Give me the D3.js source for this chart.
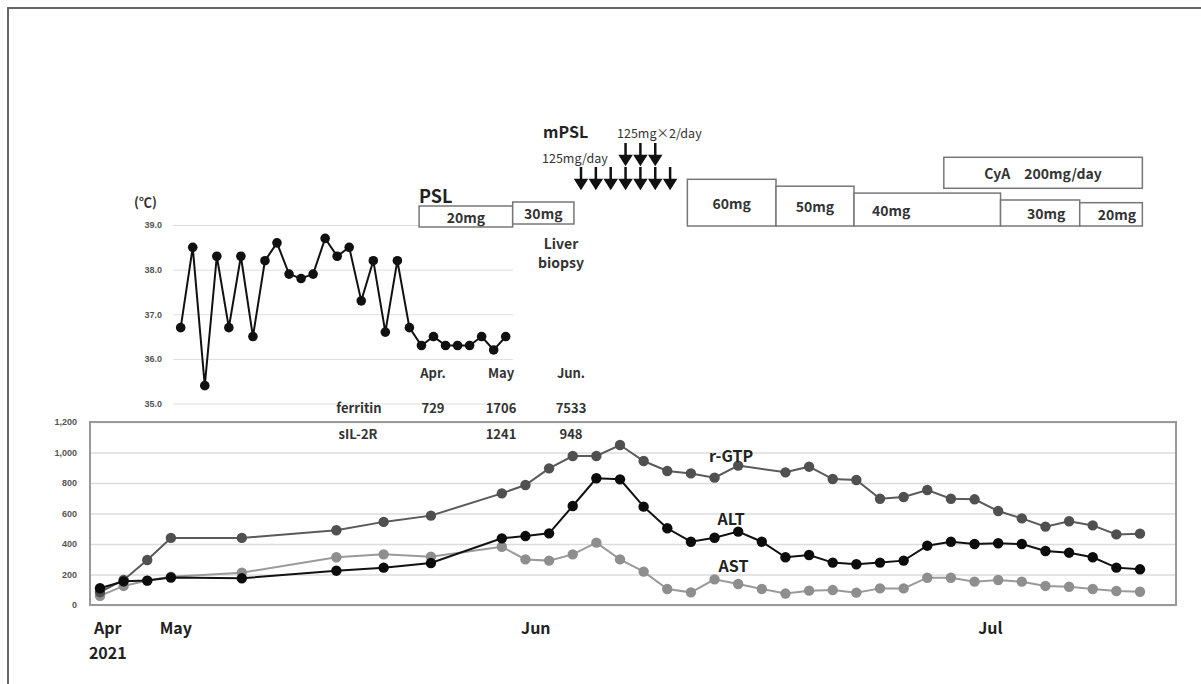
<!DOCTYPE html>
<html>
<head>
<meta charset="utf-8">
<script src="https://cdn.jsdelivr.net/npm/d3@7"></script>
<style>
  body { margin: 0; background: #fff; }
  svg { display: block; font-family: "Noto Sans CJK JP", "Noto Sans", sans-serif; }
</style>
</head>
<body>
<div id="my_dataviz"></div>
<script>
// ---- data ----
// body temperature, one reading per slot
const tempValues = [36.7, 38.5, 35.4, 38.3, 36.7, 38.3, 36.5, 38.2, 38.6, 37.9, 37.8, 37.9, 38.7, 38.3,
  38.5, 37.3, 38.2, 36.6, 38.2, 36.7, 36.3, 36.5, 36.3, 36.3, 36.3, 36.5, 36.2, 36.5];
const tempTicks = [35, 36, 37, 38, 39];

// lab values, category slots on the lower axis
const labSlots = [0, 1, 2, 3, 6, 10, 12, 14, 17, 18, 19, 20, 21, 22, 23, 24, 25, 26, 27, 28,
  29, 30, 31, 32, 33, 34, 35, 36, 37, 38, 39, 40, 41, 42, 43, 44];
const gtpValues = [85, 164, 295, 440, 440, 490, 545, 586, 732, 787, 896, 977, 977, 1049, 944, 879,
  863, 835, 914, null, 870, 907, 826, 820, 697, 708, 754, 697, 693, 616, 568, 514, 549, 522, 463, 468];
const altValues = [110, 155, 160, 180, 175, 225, 245, 275, 437, 452, 470, 649, 831, 824, 645, 503,
  415, 441, 481, 415, 313, 328, 278, 267, 278, 291, 389, 415, 400, 405, 400, 354, 343, 313, 245, 234];
const astValues = [60, 125, 160, 185, 212, 313, 332, 317, 382, 299, 291, 332, 409, 299, 219, 105,
  83, 168, 138, 105, 75, 94, 98, 81, 109, 109, 179, 179, 153, 164, 153, 125, 120, 105, 92, 87];
const labTicks = [0, 200, 400, 600, 800, 1000, 1200];

const monthLabels = ["Apr", "May", "Jun", "Jul"];
const monthSlots = [0.33, 3.21, 18.44, 37.67];

// table of ferritin / sIL-2R
const tableMonths = ["Apr.", "May", "Jun."];
const ferritinValues = ["729", "1706", "7533"];
const sil2rValues = ["", "1241", "948"];

// treatments (in lower-axis slot units)
const pslLabels = ["20mg", "30mg"];
const pslStart = [13.5, 17.46];
const pslEnd = [17.46, 20.05];

const doseLabels = ["60mg", "50mg", "40mg", "30mg", "20mg"];
const doseMg = [60, 50, 40, 30, 20];
const doseStart = [24.85, 28.6, 31.9, 38.1, 41.45];
const doseEnd = [28.6, 31.9, 38.1, 41.45, 44.1];

const cyaStart = 35.7, cyaEnd = 44.1;

const mpslDays = [1, 2, 3, 4, 5, 6, 7];
const mpslTwiceDays = [4, 5, 6];

// ---- svg ----
const W = 1201, H = 684;
const svg = d3.select("#my_dataviz")
  .append("svg")
  .attr("width", W)
  .attr("height", H);

svg.append("rect").attr("width", W).attr("height", H).attr("fill", "#fff");

// image frame (top + left)
svg.append("path")
  .attr("d", `M8,${H} V8 H${W}`)
  .attr("fill", "none")
  .attr("stroke", "#666")
  .attr("stroke-width", 2);

// ---- 1. temperature chart ----
const xT = d3.scaleLinear().domain([0, tempValues.length - 1]).range([180.7, 505.7]);
const yT = d3.scaleLinear().domain([35, 39]).range([403.5, 225]);

const gT = svg.append("g");
gT.append("g")
  .attr("transform", "translate(173,0)")
  .call(d3.axisLeft(yT).tickValues(tempTicks).tickFormat(d3.format(".1f")).tickSize(-340).tickPadding(11))
  .call(g => g.select(".domain").remove())
  .call(g => g.selectAll(".tick line").attr("stroke", "#ddd"))
  .call(g => g.selectAll(".tick text").attr("font-size", 9).attr("font-weight", "bold")
    .attr("fill", "#555").attr("font-family", "inherit"));

gT.append("text")
  .attr("x", 134).attr("y", 207)
  .attr("font-size", 13).attr("font-weight", "bold").attr("fill", "#333")
  .text("(℃)");

gT.append("path")
  .datum(tempValues)
  .attr("fill", "none")
  .attr("stroke", "#111")
  .attr("stroke-width", 2)
  .attr("d", d3.line().x((d, i) => xT(i)).y(d => yT(d)));

gT.selectAll(".tdot")
  .data(tempValues)
  .enter().append("circle")
  .attr("class", "tdot")
  .attr("cx", (d, i) => xT(i))
  .attr("cy", d => yT(d))
  .attr("r", 4.8)
  .attr("fill", "#111");

// ---- 2. lower lab chart ----
const xL = d3.scaleLinear().domain([0, 44]).range([100, 1140]);
const yL = d3.scaleLinear().domain([0, 1200]).range([605, 422]);

svg.append("g")
  .attr("transform", "translate(90,0)")
  .call(d3.axisLeft(yL).tickValues(labTicks).tickFormat(d3.format(",")).tickSize(-1086).tickPadding(13))
  .call(g => g.select(".domain").remove())
  .call(g => g.selectAll(".tick line").attr("stroke", "#dcdcdc").attr("stroke-width", 1.5))
  .call(g => g.selectAll(".tick text").attr("font-size", 9).attr("font-weight", "bold")
    .attr("fill", "#555").attr("font-family", "inherit"));

// plot border
svg.append("rect")
  .attr("x", 90).attr("y", yL(1200))
  .attr("width", 1086).attr("height", yL(0) - yL(1200))
  .attr("fill", "none")
  .attr("stroke", "#999")
  .attr("stroke-width", 2);

const series = [
  { name: "AST", values: astValues, line: "#9a9a9a", dot: "#8e8e8e" },
  { name: "r-GTP", values: gtpValues, line: "#5a5a5a", dot: "#505050" },
  { name: "ALT", values: altValues, line: "#111", dot: "#0c0c0c" }
];

series.forEach(s => {
  const pts = labSlots.map((slot, i) => ({ slot, v: s.values[i] })).filter(p => p.v != null);
  svg.append("path")
    .datum(pts)
    .attr("fill", "none")
    .attr("stroke", s.line)
    .attr("stroke-width", 2)
    .attr("d", d3.line().x(p => xL(p.slot)).y(p => yL(p.v)));
  svg.selectAll(".dot-" + s.name)
    .data(pts)
    .enter().append("circle")
    .attr("cx", p => xL(p.slot))
    .attr("cy", p => yL(p.v))
    .attr("r", 5.2)
    .attr("fill", s.dot);
});

// series labels
const seriesLabelPos = [
  { text: "r-GTP", slot: 26.7, v: 985 },
  { text: "ALT", slot: 26.7, v: 570 },
  { text: "AST", slot: 26.8, v: 262 }
];
svg.selectAll(".slabel")
  .data(seriesLabelPos)
  .enter().append("text")
  .attr("x", d => xL(d.slot))
  .attr("y", d => yL(d.v))
  .attr("text-anchor", "middle")
  .attr("dominant-baseline", "central")
  .attr("font-size", 16)
  .attr("font-weight", "bold")
  .attr("fill", "#222")
  .text(d => d.text);

// month labels
svg.selectAll(".mlabel")
  .data(monthLabels)
  .enter().append("text")
  .attr("x", (d, i) => xL(monthSlots[i]))
  .attr("y", 634)
  .attr("text-anchor", "middle")
  .attr("font-size", 16)
  .attr("font-weight", "bold")
  .attr("fill", "#222")
  .text(d => d);
svg.append("text")
  .attr("x", xL(monthSlots[0])).attr("y", 659)
  .attr("text-anchor", "middle")
  .attr("font-size", 16).attr("font-weight", "bold").attr("fill", "#222")
  .text("2021");

// ---- 3. ferritin / sIL-2R table ----
const colX = [433, 501, 571];
const tbl = svg.append("g")
  .attr("font-size", 13)
  .attr("font-weight", "bold")
  .attr("fill", "#333")
  .attr("text-anchor", "middle")
  .attr("dominant-baseline", "central");
tableMonths.forEach((m, i) => tbl.append("text").attr("x", colX[i]).attr("y", 372).text(m));
tbl.append("text").attr("x", 359).attr("y", 407).text("ferritin");
tbl.append("text").attr("x", 358).attr("y", 433).text("sIL-2R");
ferritinValues.forEach((v, i) => tbl.append("text").attr("x", colX[i]).attr("y", 407).text(v));
sil2rValues.forEach((v, i) => tbl.append("text").attr("x", colX[i]).attr("y", 433).text(v));

// ---- 4. treatments ----
const boxStroke = "#777";

svg.append("text")
  .attr("x", xL(pslStart[0])).attr("y", 203)
  .attr("font-size", 18).attr("font-weight", "bold").attr("fill", "#222")
  .text("PSL");

const pslTop = [206, 202], pslBottom = [227, 224];
pslLabels.forEach((lab, i) => {
  svg.append("rect")
    .attr("x", xL(pslStart[i])).attr("y", pslTop[i])
    .attr("width", xL(pslEnd[i]) - xL(pslStart[i]))
    .attr("height", pslBottom[i] - pslTop[i])
    .attr("fill", "#fff").attr("stroke", boxStroke).attr("stroke-width", 1.5);
  svg.append("text")
    .attr("x", (xL(pslStart[i]) + xL(pslEnd[i])) / 2)
    .attr("y", (pslTop[i] + pslBottom[i]) / 2)
    .attr("text-anchor", "middle").attr("dominant-baseline", "central")
    .attr("font-size", 14).attr("font-weight", "bold").attr("fill", "#333")
    .text(lab);
});

svg.append("text")
  .attr("x", 561).attr("y", 243)
  .attr("text-anchor", "middle").attr("dominant-baseline", "central")
  .attr("font-size", 14).attr("font-weight", "bold").attr("fill", "#333")
  .text("Liver");
svg.append("text")
  .attr("x", 561).attr("y", 262)
  .attr("text-anchor", "middle").attr("dominant-baseline", "central")
  .attr("font-size", 14).attr("font-weight", "bold").attr("fill", "#333")
  .text("biopsy");

// mPSL pulse arrows
const xDay = d3.scaleLinear().domain([1, 7]).range([xL(20.35), xL(24.12)]);
svg.append("text")
  .attr("x", 543).attr("y", 131)
  .attr("dominant-baseline", "central")
  .attr("font-size", 16).attr("font-weight", "bold").attr("fill", "#222")
  .text("mPSL");
svg.append("text")
  .attr("x", 542).attr("y", 157)
  .attr("dominant-baseline", "central")
  .attr("font-size", 12.5).attr("fill", "#333")
  .text("125mg/day");
svg.append("text")
  .attr("x", 617).attr("y", 132)
  .attr("dominant-baseline", "central")
  .attr("font-size", 12.5).attr("fill", "#333")
  .text("125mg×2/day");

function arrow(x, y0, y1) {
  const head = 8;
  return `M${x},${y0} V${y1 - head} M${x - 5},${y1 - head} L${x + 5},${y1 - head} L${x},${y1} Z`;
}
svg.selectAll(".arrow1")
  .data(mpslDays)
  .enter().append("path")
  .attr("d", d => arrow(xDay(d), 167, 188))
  .attr("stroke", "#111").attr("stroke-width", 2.5).attr("fill", "#111");
svg.selectAll(".arrow2")
  .data(mpslTwiceDays)
  .enter().append("path")
  .attr("d", d => arrow(xDay(d), 143, 164))
  .attr("stroke", "#111").attr("stroke-width", 2.5).attr("fill", "#111");

// PSL taper boxes
const doseH = d3.scaleLinear().domain([20, 30, 60]).range([23.3, 26, 46.7]);
const doseBottom = 226;
doseLabels.forEach((lab, i) => {
  const x0 = xL(doseStart[i]), x1 = xL(doseEnd[i]);
  const top = doseBottom - doseH(doseMg[i]);
  svg.append("rect")
    .attr("x", x0).attr("y", top)
    .attr("width", x1 - x0).attr("height", doseBottom - top)
    .attr("fill", "#fff").attr("stroke", boxStroke).attr("stroke-width", 1.5);
  const leftAligned = i === 2;
  svg.append("text")
    .attr("x", leftAligned ? x0 + 18 : (x0 + x1) / 2 + (i >= 3 ? 6 : 0))
    .attr("y", (top + doseBottom) / 2)
    .attr("text-anchor", leftAligned ? "start" : "middle")
    .attr("dominant-baseline", "central")
    .attr("font-size", 14).attr("font-weight", "bold").attr("fill", "#333")
    .text(lab);
});

// CyA box
svg.append("rect")
  .attr("x", xL(cyaStart)).attr("y", 157.3)
  .attr("width", xL(cyaEnd) - xL(cyaStart)).attr("height", 31)
  .attr("fill", "#fff").attr("stroke", boxStroke).attr("stroke-width", 1.5);
svg.append("text")
  .attr("x", (xL(cyaStart) + xL(cyaEnd)) / 2).attr("y", 173)
  .attr("text-anchor", "middle").attr("dominant-baseline", "central")
  .attr("font-size", 14).attr("font-weight", "bold").attr("fill", "#333")
  .attr("xml:space", "preserve")
  .text("CyA　200mg/day");
</script>
</body>
</html>
